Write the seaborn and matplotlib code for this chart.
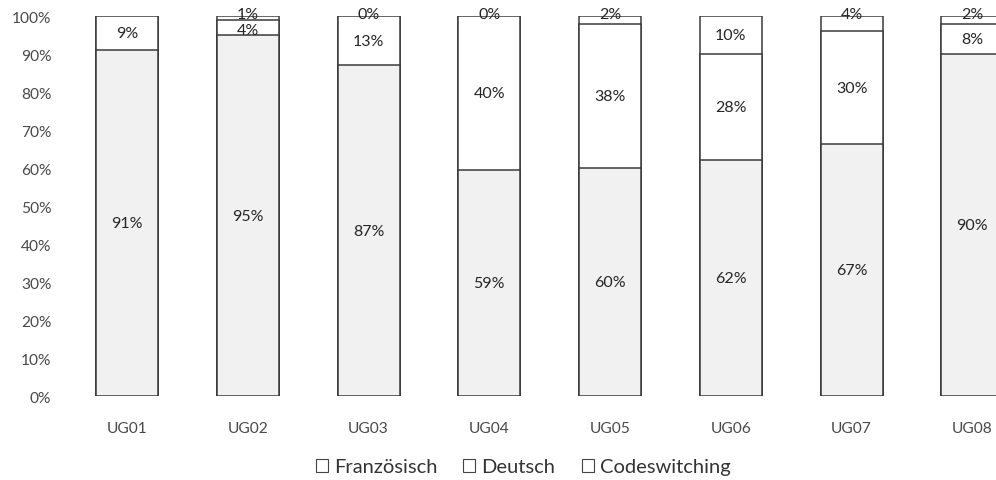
import numpy as np
import pandas as pd
import matplotlib
matplotlib.use("Agg")
import matplotlib.pyplot as plt
import seaborn as sns
from matplotlib.patches import Patch

categories = ["UG01", "UG02", "UG03", "UG04", "UG05", "UG06", "UG07", "UG08"]
franz = [91, 95, 87, 59, 60, 62, 67, 90]
deutsch = [9, 4, 13, 40, 38, 28, 30, 8]
codesw = [0, 1, 0, 0, 2, 10, 4, 2]
show_cs = [False, True, True, True, True, True, True, True]
series_names = ["Französisch", "Deutsch", "Codeswitching"]

sns.set_theme(style="white")
plt.rcParams["font.family"] = ["Lato", "DejaVu Sans"]

tot = np.array(franz) + np.array(deutsch) + np.array(codesw)
f_n = np.array(franz) / tot * 100
d_n = np.array(deutsch) / tot * 100
c_n = np.array(codesw) / tot * 100

df = pd.DataFrame({
    "cat": categories,
    "l1": f_n,
    "l2": f_n + d_n,
    "l3": f_n + d_n + c_n,
})

fig = plt.figure(figsize=(9.96, 4.81), dpi=100)
ax = fig.add_axes([0.0669, 0.1746, 0.970, 0.790])

edge = "#3a3a3a"
w = 0.513
sns.barplot(data=df, x="cat", y="l3", color="white", edgecolor=edge, linewidth=1.1,
            width=w, ax=ax, saturation=1)
sns.barplot(data=df, x="cat", y="l2", color="white", edgecolor=edge, linewidth=1.1,
            width=w, ax=ax, saturation=1)
sns.barplot(data=df, x="cat", y="l1", color="#f1f1f1", edgecolor=edge, linewidth=1.1,
            width=w, ax=ax, saturation=1)

ax.set_xlim(-0.5, 7.5)
ax.set_ylim(0, 100)
ax.set_yticks(np.arange(0, 101, 10))
ax.set_yticklabels([f"{v}%" for v in range(0, 101, 10)])
ax.set_xlabel("")
ax.set_ylabel("")
for s in ax.spines.values():
    s.set_visible(False)
ax.tick_params(axis="y", length=0, pad=11, labelsize=11.2, labelcolor="#4a4a4a")
ax.tick_params(axis="x", length=0, pad=18, labelsize=11.2, labelcolor="#4a4a4a")

lab_kw = dict(ha="center", va="center", fontsize=11.5, color="#262626",
              textcoords="offset points")
for i in range(len(categories)):
    ax.annotate(f"{franz[i]}%", (i, f_n[i] / 2), xytext=(0, 0), **lab_kw)
    d_off = -2 if deutsch[i] < 6 else 0
    ax.annotate(f"{deutsch[i]}%", (i, f_n[i] + d_n[i] / 2), xytext=(0, d_off), **lab_kw)
    if show_cs[i]:
        if codesw[i] <= 4:
            ax.annotate(f"{codesw[i]}%", (i, 100), xytext=(0, 1.5), **lab_kw)
        else:
            ax.annotate(f"{codesw[i]}%", (i, f_n[i] + d_n[i] + c_n[i] / 2), xytext=(0, 0), **lab_kw)

handles = [Patch(facecolor="white", edgecolor="#444444", linewidth=0.8) for _ in series_names]
fig.legend(handles, series_names, loc="center", bbox_to_anchor=(523 / 996, 1 - 468 / 481),
           ncol=3, frameon=False, fontsize=14.5, handlelength=0.6, handleheight=0.6,
           handletextpad=0.3, columnspacing=1.3, labelcolor="#333333")

fig.savefig("out.png", dpi=100)
